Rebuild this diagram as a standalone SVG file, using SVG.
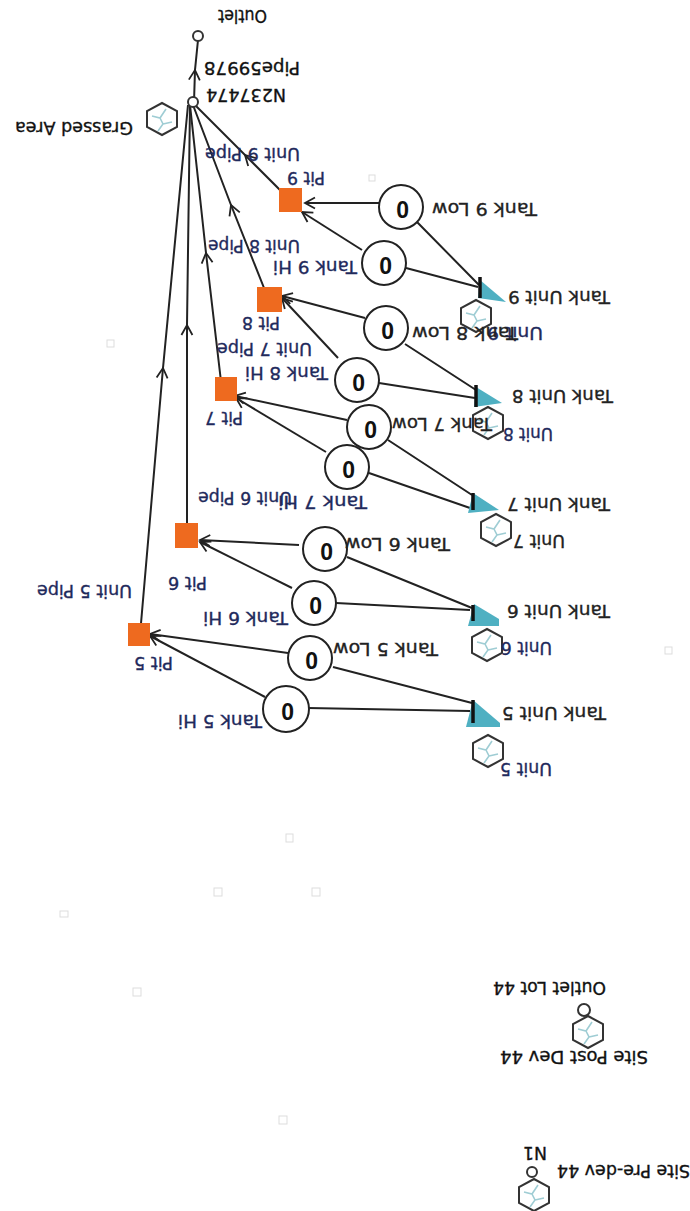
<svg xmlns="http://www.w3.org/2000/svg" width="690" height="1211" viewBox="0 0 690 1211">
<style>
text{font-family:"DejaVu Sans","Liberation Sans",sans-serif;font-size:18px;fill:#222;stroke:#222;stroke-width:.35}
.n{fill:#1f2a5c;stroke:#1f2a5c}
.k{fill:#111;stroke:#111}
.c{fill:none;stroke:#222;stroke-width:2}
.t{fill:#fff;stroke:#222;stroke-width:2}
.o{font-family:"Liberation Sans",sans-serif;font-size:23px;font-weight:bold;fill:#111;stroke:none}
.p{fill:#ee6a1f}
.h{fill:#fff;stroke:#333;stroke-width:2}
.cr{fill:none;stroke:#9fcdd4;stroke-width:1.6}
.tri{fill:#4fb0c2}
.bar{stroke:#111;stroke-width:3.5}
.sp{fill:#fff;stroke:#ddd;stroke-width:1}
</style>
<defs>
<marker id="a" markerUnits="userSpaceOnUse" markerWidth="14" markerHeight="14" refX="12" refY="7" orient="auto"><path d="M2,1.5L12,7L2,12.5" fill="none" stroke="#222" stroke-width="1.8"/></marker>
<g id="hx"><path class="h" d="M0,-16L15,-8L15,8L0,16L-15,8L-15,-8Z"/><path class="cr" d="M-10,-3L-2,-1L4,-10M-2,-1L1,5L-4,12M1,5L10,3"/></g>
</defs>
<g id="specks"><rect class="sp" x="214" y="888" width="8" height="8"/><rect class="sp" x="312" y="888" width="8" height="8"/><rect class="sp" x="286" y="834" width="7" height="8"/><rect class="sp" x="60" y="911" width="8" height="6"/><rect class="sp" x="133" y="988" width="8" height="8"/><rect class="sp" x="279" y="1116" width="8" height="8"/><rect class="sp" x="107" y="340" width="7" height="7"/><rect class="sp" x="665" y="647" width="7" height="7"/><rect class="sp" x="369" y="175" width="6" height="6"/></g>
<g id="unit9"><use href="#hx" x="476" y="316"/><text class="n" transform="translate(543,327) rotate(180)" textLength="56" lengthAdjust="spacingAndGlyphs">Unit 9</text></g>
<g id="unit8"><use href="#hx" x="488" y="423"/><text class="n" transform="translate(553,428) rotate(180)" textLength="50" lengthAdjust="spacingAndGlyphs">Unit 8</text></g>
<g id="unit7"><use href="#hx" x="496" y="530"/><text transform="translate(565,535) rotate(180)" textLength="52" lengthAdjust="spacingAndGlyphs">Unit 7</text></g>
<g id="unit6"><use href="#hx" x="487" y="645"/><text class="n" transform="translate(552,642) rotate(180)" textLength="51" lengthAdjust="spacingAndGlyphs">Unit 6</text></g>
<g id="unit5"><use href="#hx" x="488" y="751"/><text class="n" transform="translate(552,763) rotate(180)" textLength="52" lengthAdjust="spacingAndGlyphs">Unit 5</text></g>
<g id="connectors">
<polyline class="c" marker-mid="url(#a)" points="194,102 195,70 198,40"/>
<polyline class="c" marker-mid="url(#a)" points="290,200 245,155 195,105"/>
<polyline class="c" marker-mid="url(#a)" points="268,298 231,205 193,105"/>
<polyline class="c" marker-mid="url(#a)" points="222,390 206,253 190,105"/>
<polyline class="c" marker-mid="url(#a)" points="187,535 187,325 190,105"/>
<polyline class="c" marker-mid="url(#a)" points="140,635 163,368 188,105"/>
<path class="c" d="M479,285L417,222M478,287L406,268M476,390L405,344M475,398L379,383M472,495L388,440M470,508L369,473M472,608L347,557M470,610L336,603M472,703L333,667M470,711L308,708"/>
<path class="c" marker-end="url(#a)" d="M379,203L305,203"/>
<path class="c" marker-end="url(#a)" d="M362,250L302,212"/>
<path class="c" marker-end="url(#a)" d="M365,318L282,296"/>
<path class="c" marker-end="url(#a)" d="M338,358L282,298"/>
<path class="c" marker-end="url(#a)" d="M347,420L235,396"/>
<path class="c" marker-end="url(#a)" d="M326,452L236,398"/>
<path class="c" marker-end="url(#a)" d="M299,545L200,540"/>
<path class="c" marker-end="url(#a)" d="M292,588L200,542"/>
<path class="c" marker-end="url(#a)" d="M288,653L150,634"/>
<path class="c" marker-end="url(#a)" d="M265,697L150,636"/>
</g>
<g id="outlet"><circle class="h" cx="198" cy="36" r="5"/><text class="k" transform="translate(267,10) rotate(180)" textLength="49" lengthAdjust="spacingAndGlyphs">Outlet</text></g>
<g id="pipe59978"><text class="k" transform="translate(300,62) rotate(180)" textLength="96" lengthAdjust="spacingAndGlyphs">Pipe59978</text></g>
<g id="n237474"><circle class="h" cx="193" cy="102" r="5"/><text class="k" transform="translate(286,89) rotate(180)" textLength="80" lengthAdjust="spacingAndGlyphs">N237474</text></g>
<g id="grassed"><use href="#hx" x="162" y="119"/><text class="k" transform="translate(133,122) rotate(180)" textLength="118" lengthAdjust="spacingAndGlyphs">Grassed Area</text></g>
<g id="pit9"><rect class="p" x="279" y="188" width="23" height="24"/><text class="n" transform="translate(325,172) rotate(180)" textLength="38" lengthAdjust="spacingAndGlyphs">Pit 9</text><text class="n" transform="translate(300,148) rotate(180)" textLength="95" lengthAdjust="spacingAndGlyphs">Unit 9 Pipe</text></g>
<g id="pit8"><rect class="p" x="257" y="287" width="25" height="25"/><text class="n" transform="translate(280,317) rotate(180)" textLength="38" lengthAdjust="spacingAndGlyphs">Pit 8</text><text class="n" transform="translate(300,240) rotate(180)" textLength="92" lengthAdjust="spacingAndGlyphs">Unit 8 Pipe</text></g>
<g id="pit7"><rect class="p" x="215" y="377" width="22" height="24"/><text class="n" transform="translate(243,412) rotate(180)" textLength="38" lengthAdjust="spacingAndGlyphs">Pit 7</text><text class="n" transform="translate(312,343) rotate(180)" textLength="95" lengthAdjust="spacingAndGlyphs">Unit 7 Pipe</text></g>
<g id="pit6"><rect class="p" x="175" y="523" width="23" height="25"/><text class="n" transform="translate(207,577) rotate(180)" textLength="39" lengthAdjust="spacingAndGlyphs">Pit 6</text><text class="n" transform="translate(292,492) rotate(180)" textLength="94" lengthAdjust="spacingAndGlyphs">Unit 6 Pipe</text></g>
<g id="pit5"><rect class="p" x="128" y="623" width="22" height="23"/><text class="n" transform="translate(173,657) rotate(180)" textLength="39" lengthAdjust="spacingAndGlyphs">Pit 5</text><text class="n" transform="translate(132,585) rotate(180)" textLength="95" lengthAdjust="spacingAndGlyphs">Unit 5 Pipe</text></g>
<g id="tank9low"><circle class="t" cx="401" cy="207" r="22"/><text class="o" transform="translate(409,201) rotate(180)">0</text><text transform="translate(537,203) rotate(180)" textLength="105" lengthAdjust="spacingAndGlyphs">Tank 9 Low</text></g>
<g id="tank9hi"><circle class="t" cx="384" cy="263" r="22"/><text class="o" transform="translate(392,257) rotate(180)">0</text><text class="n" transform="translate(357,261) rotate(180)" textLength="84" lengthAdjust="spacingAndGlyphs">Tank 9 Hi</text></g>
<g id="tank8low"><circle class="t" cx="386" cy="328" r="22"/><text class="o" transform="translate(394,322) rotate(180)">0</text><text transform="translate(518,327) rotate(180)" textLength="106" lengthAdjust="spacingAndGlyphs">Tank 8 Low</text></g>
<g id="tank8hi"><circle class="t" cx="357" cy="380" r="22"/><text class="o" transform="translate(365,374) rotate(180)">0</text><text class="n" transform="translate(328,367) rotate(180)" textLength="83" lengthAdjust="spacingAndGlyphs">Tank 8 Hi</text></g>
<g id="tank7low"><circle class="t" cx="369" cy="427" r="22"/><text class="o" transform="translate(377,421) rotate(180)">0</text><text transform="translate(492,418) rotate(180)" textLength="100" lengthAdjust="spacingAndGlyphs">Tank 7 Low</text></g>
<g id="tank7hi"><circle class="t" cx="347" cy="467" r="22"/><text class="o" transform="translate(355,461) rotate(180)">0</text><text class="n" transform="translate(367,496) rotate(180)" textLength="89" lengthAdjust="spacingAndGlyphs">Tank 7 Hi</text></g>
<g id="tank6low"><circle class="t" cx="325" cy="549" r="22"/><text class="o" transform="translate(333,543) rotate(180)">0</text><text transform="translate(450,538) rotate(180)" textLength="105" lengthAdjust="spacingAndGlyphs">Tank 6 Low</text></g>
<g id="tank6hi"><circle class="t" cx="314" cy="603" r="22"/><text class="o" transform="translate(322,597) rotate(180)">0</text><text class="n" transform="translate(288,612) rotate(180)" textLength="85" lengthAdjust="spacingAndGlyphs">Tank 6 Hi</text></g>
<g id="tank5low"><circle class="t" cx="310" cy="658" r="22"/><text class="o" transform="translate(318,652) rotate(180)">0</text><text transform="translate(438,643) rotate(180)" textLength="105" lengthAdjust="spacingAndGlyphs">Tank 5 Low</text></g>
<g id="tank5hi"><circle class="t" cx="286" cy="709" r="23"/><text class="o" transform="translate(294,703) rotate(180)">0</text><text class="n" transform="translate(262,715) rotate(180)" textLength="84" lengthAdjust="spacingAndGlyphs">Tank 5 Hi</text></g>
<g id="tankunit9"><path class="tri" d="M480,280L506,302L478,298Z"/><path class="bar" d="M480,277V298"/><text transform="translate(610,291) rotate(180)" textLength="102" lengthAdjust="spacingAndGlyphs">Tank Unit 9</text></g>
<g id="tankunit8"><path class="tri" d="M476,387L502,403L474,407Z"/><path class="bar" d="M476,385V407"/><text transform="translate(613,390) rotate(180)" textLength="101" lengthAdjust="spacingAndGlyphs">Tank Unit 8</text></g>
<g id="tankunit7"><path class="tri" d="M473,493L499,510L468,513Z"/><path class="bar" d="M473,493V510"/><text transform="translate(610,498) rotate(180)" textLength="103" lengthAdjust="spacingAndGlyphs">Tank Unit 7</text></g>
<g id="tankunit6"><path class="tri" d="M474,604L499,619V626H468Z"/><path class="bar" d="M473,605V621"/><text transform="translate(610,605) rotate(180)" textLength="103" lengthAdjust="spacingAndGlyphs">Tank Unit 6</text></g>
<g id="tankunit5"><path class="tri" d="M473,700L500,723V727H466Z"/><path class="bar" d="M473,700V723"/><text transform="translate(606,707) rotate(180)" textLength="104" lengthAdjust="spacingAndGlyphs">Tank Unit 5</text></g>
<g id="outletlot44"><circle class="h" cx="584" cy="1010" r="6"/><text class="k" transform="translate(606,982) rotate(180)" textLength="113" lengthAdjust="spacingAndGlyphs">Outlet Lot 44</text></g>
<g id="sitepost44"><use href="#hx" x="588" y="1032"/><text class="k" transform="translate(648,1051) rotate(180)" textLength="148" lengthAdjust="spacingAndGlyphs">Site Post Dev 44</text></g>
<g id="n1"><circle class="h" cx="532" cy="1172" r="5"/><text class="k" transform="translate(547,1147) rotate(180)" textLength="24" lengthAdjust="spacingAndGlyphs">N1</text></g>
<g id="sitepre44"><use href="#hx" x="534" y="1195"/><text class="k" transform="translate(690,1165) rotate(180)" textLength="133" lengthAdjust="spacingAndGlyphs">Site Pre-dev 44</text></g>
</svg>
